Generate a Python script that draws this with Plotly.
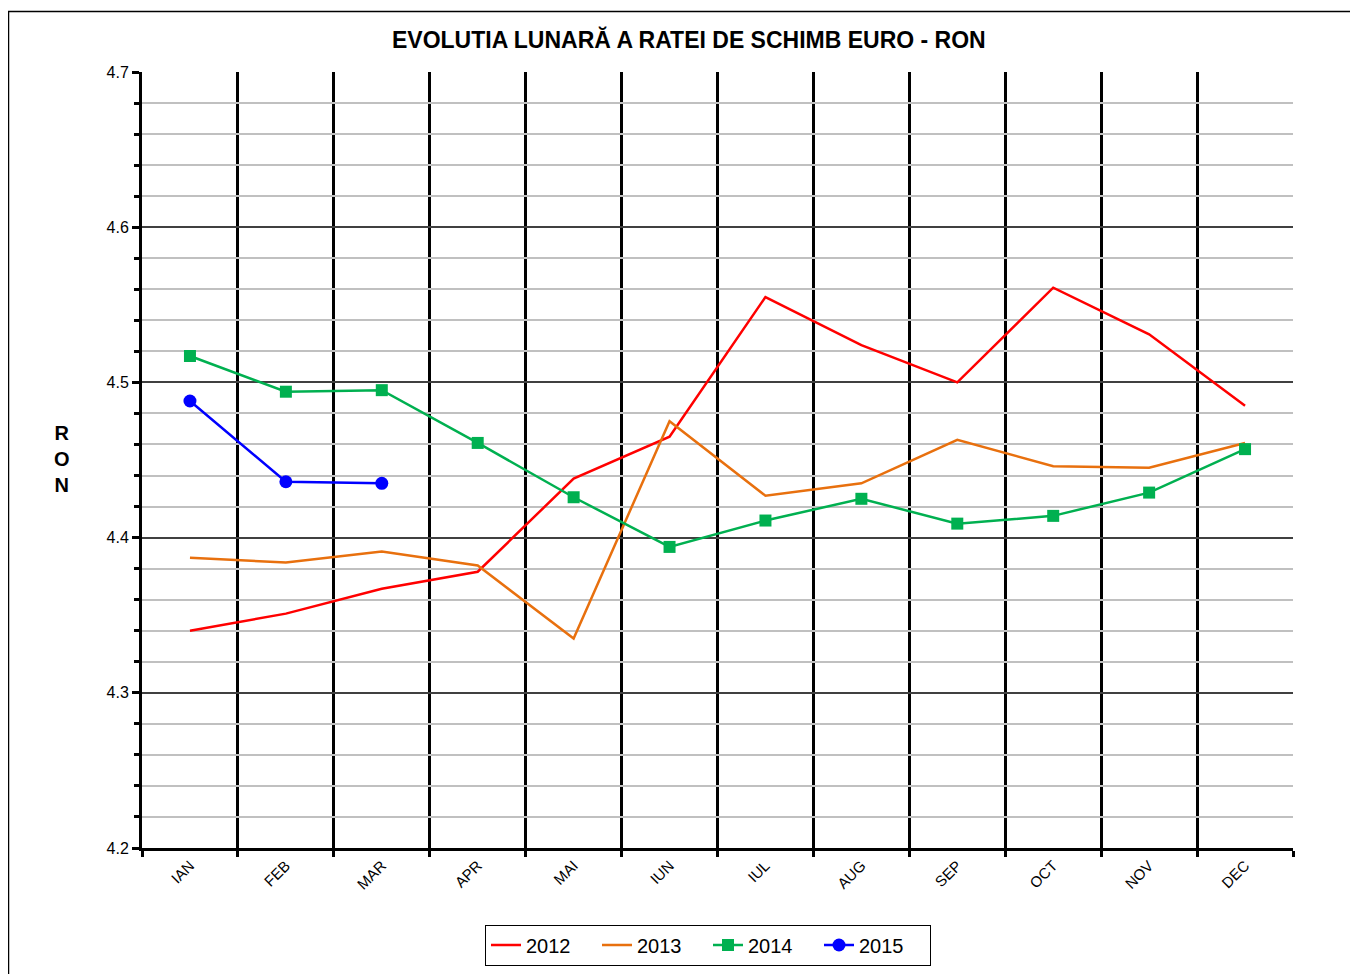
import plotly.graph_objects as go

months = ["IAN", "FEB", "MAR", "APR", "MAI", "IUN", "IUL", "AUG", "SEP", "OCT", "NOV", "DEC"]
month_pos = list(range(1, 13))

rate_2012 = [4.340, 4.351, 4.367, 4.378, 4.438, 4.465, 4.555, 4.524, 4.500, 4.561, 4.531, 4.485]
rate_2013 = [4.387, 4.384, 4.391, 4.382, 4.335, 4.475, 4.427, 4.435, 4.463, 4.446, 4.445, 4.461]
rate_2014 = [4.517, 4.494, 4.495, 4.461, 4.426, 4.394, 4.411, 4.425, 4.409, 4.414, 4.429, 4.457]
rate_2015 = [4.488, 4.436, 4.435]

# page body has an 8px margin, so the figure starts at (8, 8)
OFF = 8
W, H = 1350, 966
L, R, T, B = 142 - OFF, 65, 72 - OFF, 126
pw, ph = W - L - R, H - T - B

def px_x(p):
    return (p - OFF - L) / pw

def px_y(p):
    return (H - B - (p - OFF)) / ph

def cont_y(p):
    return 1 - (p - OFF) / H

FONT = "Liberation Sans, Arial, sans-serif"

fig = go.Figure()
fig.add_trace(go.Scatter(x=month_pos, y=rate_2012, name="2012", mode="lines",
                         line=dict(color="#FF0000", width=2.5)))
fig.add_trace(go.Scatter(x=month_pos, y=rate_2013, name="2013", mode="lines",
                         line=dict(color="#E8700E", width=2.5)))
fig.add_trace(go.Scatter(x=month_pos, y=rate_2014, name="2014", mode="lines+markers",
                         line=dict(color="#00B050", width=2.5),
                         marker=dict(symbol="square", size=12, color="#00B050")))
fig.add_trace(go.Scatter(x=month_pos[:len(rate_2015)], y=rate_2015, name="2015", mode="lines+markers",
                         line=dict(color="#0000FF", width=2.5),
                         marker=dict(symbol="circle", size=13, color="#0000FF")))

fig.update_layout(
    width=W, height=H,
    margin=dict(l=L, r=R, t=T, b=B, pad=0, autoexpand=False),
    paper_bgcolor="white", plot_bgcolor="white",
    font=dict(family=FONT, color="black", size=16),
    showlegend=True,
    legend=dict(orientation="h", x=px_x(708), y=cont_y(945), yref="container",
                xanchor="center", yanchor="middle",
                bordercolor="black", borderwidth=1, bgcolor="white",
                font=dict(size=20, family=FONT), entrywidth=66, entrywidthmode="pixels",
                tracegroupgap=0),
    xaxis=dict(
        range=[0.5, 12.5], tickmode="array", tickvals=month_pos, ticktext=months,
        tickangle=-45, tickfont=dict(size=15, family=FONT, color="black"), ticks="",
        showgrid=False, zeroline=False, automargin=False,
        showline=True, linecolor="black", linewidth=3, mirror=False,
        minor=dict(tick0=0.5, dtick=1, showgrid=True, gridcolor="black", gridwidth=2.5,
                   ticks="outside", ticklen=6, tickwidth=2.5, tickcolor="black"),
    ),
    yaxis=dict(
        range=[4.2, 4.7], dtick=0.1, tick0=4.2, tickformat=".1f",
        tickfont=dict(size=16, family=FONT, color="black"), ticks="outside", ticklen=7, tickwidth=3,
        tickcolor="black", automargin=False,
        showgrid=True, gridcolor="#404040", gridwidth=1.5, zeroline=False,
        showline=True, linecolor="black", linewidth=3,
        minor=dict(dtick=0.02, showgrid=True, gridcolor="#C0C0C0", gridwidth=1.5,
                   ticks="outside", ticklen=5, tickwidth=2.5, tickcolor="black"),
    ),
)

fig.add_annotation(text="<b>EVOLUTIA LUNARĂ A RATEI DE SCHIMB EURO - RON</b>",
                   xref="paper", yref="paper", x=px_x(689), y=px_y(40),
                   xanchor="center", yanchor="middle", showarrow=False,
                   font=dict(size=23, family=FONT, color="black"))
fig.add_annotation(text="<b>R<br>O<br>N</b>",
                   xref="paper", yref="paper", x=px_x(62), y=px_y(459),
                   xanchor="center", yanchor="middle", showarrow=False,
                   font=dict(size=20, family=FONT, color="black"))

# outer chart border
fig.add_shape(type="rect", xref="paper", yref="paper",
              x0=px_x(8.5), x1=px_x(1375), y0=px_y(995), y1=px_y(11.5),
              line=dict(color="black", width=1.5), fillcolor="rgba(0,0,0,0)", layer="below")

fig.write_html("out.html")
